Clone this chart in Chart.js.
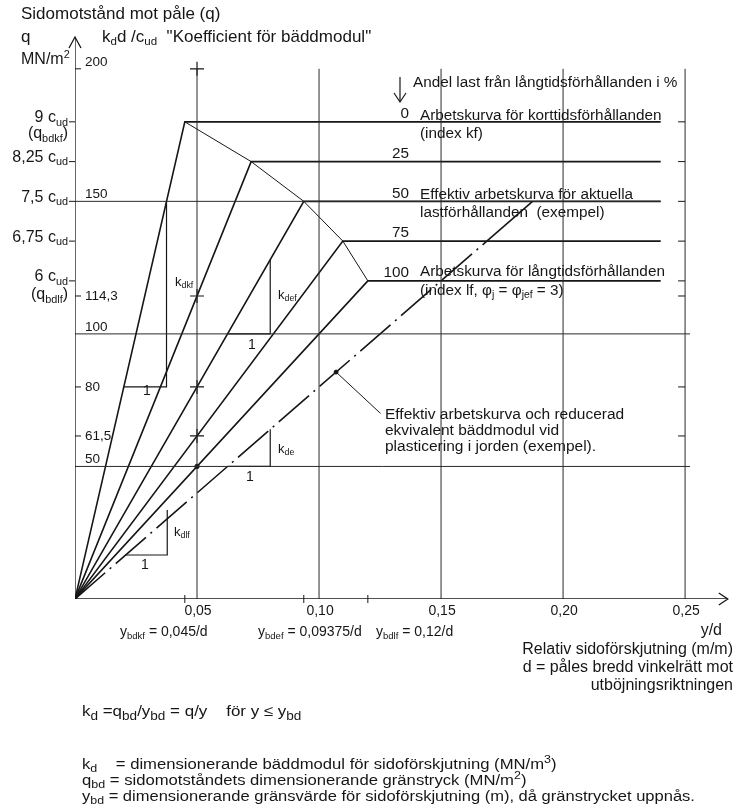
<!DOCTYPE html>
<html><head><meta charset="utf-8">
<script src="https://cdn.jsdelivr.net/npm/chart.js@4/dist/chart.umd.min.js"></script>
<style>html,body{margin:0;padding:0;background:#fff;}canvas{display:block}</style>
</head><body>
<canvas id="c" width="736" height="809"></canvas>
<script>
// ---------------- data ----------------
const loadShares   = ['0', '25', '50', '75', '100'];        // andel last från långtidsförhållanden (%)
const plateauQ     = [9, 8.25, 7.5, 6.75, 6];                // gränstryck q_bd i c_ud
const rayK         = [200, 114.3, 80, 61.5, 50];             // k_d d / c_ud för respektive kurva
const plateauEndX  = 0.24;                                   // slut på arbetskurvornas plana del (y/d)
const effK         = 40;                                     // reducerad ekvivalent bäddmodul (k_d d / c_ud)
const effBreakQ    = 6.75;                                   // där streckprickade delen övergår i heldragen
const effEndQ      = 7.5;
const xTickValues  = [0.05, 0.10, 0.15, 0.20, 0.25];
const xTickLabels  = ['0,05', '0,10', '0,15', '0,20', '0,25'];
const yGridQ       = [2.5, 5, 7.5];
const kTickValues  = [200, 150, 114.3, 100, 80, 61.5, 50];
const kTickLabels  = ['200', '150', '114,3', '100', '80', '61,5', '50'];
const qTickLabels  = ['9', '8,25', '7,5', '6,75', '6'];
const crossK       = [200, 114.3, 80, 61.5];                 // + markeringar vid y/d = 0,05
const dotK         = [50];
const yBdValues    = [0.045, 0.09375, 0.12];
const triKdkf      = [[0.02, 4], [0.0375, 4], [0.0375, 7.5]];
const triKdef      = [[0.0625, 5], [0.08, 5], [0.08, 6.4]];
const triKde       = [[0.0625, 2.5], [0.08, 2.5], [0.08, 3.2]];
const triKdlf      = [[0.0207, 0.83], [0.0378, 0.83], [0.0378, 1.68]];
const leaderX      = [0.107, 0.1252];
const leaderQ      = [4.28, 3.5];

// ---------------- drawing ----------------
const INK = '#161616', GRID = '#2a2a2a';
const FONT = '"Liberation Sans", Arial, sans-serif';
const datasets = [];
function seg(points, opts) {
  datasets.push(Object.assign({
    data: points.map(p => ({x: p[0], y: p[1]})),
    showLine: true, pointRadius: 0, borderColor: INK, borderWidth: 1.6,
    fill: false, tension: 0
  }, opts || {}));
}
// axes
seg([[0, 0], [0.2675, 0]], {borderWidth: 1.3});
seg([[0, 0], [0, 10.6]], {borderWidth: 1.3});
// grid
xTickValues.forEach(v => seg([[v, -0.1], [v, 10]], {borderColor: GRID, borderWidth: 1}));
yGridQ.forEach(q => seg([[0, q], [q === 7.5 ? plateauEndX : 0.252, q]], {borderColor: GRID, borderWidth: 1}));
// working curves
plateauQ.forEach((q, i) => seg([[0, 0], [q / rayK[i], q], [plateauEndX, q]]));
// envelope through corners
seg(plateauQ.map((q, i) => [q / rayK[i], q]), {borderWidth: 1});
// effective reduced curve
seg([[0, 0], [effBreakQ / effK, effBreakQ]], {borderDash: [40, 6, 2, 6]});
seg([[effBreakQ / effK, effBreakQ], [effEndQ / effK, effEndQ]]);
// triangles
[triKdkf, triKdef, triKde, triKdlf].forEach(t => seg(t, {borderWidth: 1.2}));
// leader line
seg(leaderX.map((x, i) => [x, leaderQ[i]]), {borderWidth: 1});
datasets.push({data: [{x: leaderX[0], y: leaderQ[0]}], showLine: false, pointRadius: 2,
  pointBackgroundColor: INK, pointBorderColor: INK});
// markers at y/d = 0,05
datasets.push({data: crossK.map(k => ({x: 0.05, y: k / 20})), showLine: false, pointStyle: 'cross',
  pointRadius: 7, pointBorderColor: INK, pointBorderWidth: 1.2});
datasets.push({data: dotK.map(k => ({x: 0.05, y: k / 20})), showLine: false, pointRadius: 2.2,
  pointBackgroundColor: INK, pointBorderColor: INK});

function font(s) { return s + 'px ' + FONT; }
// rich text: parts are strings or [text, 'sub'|'sup']; sx = horizontal stretch
function rich(ctx, x, y, parts, size, align, subScale, sx) {
  const ss = subScale || 0.68, k = sx || 1;
  const segs = parts.map(p => typeof p === 'string' ? {t: p, m: ''} : {t: p[0], m: p[1]});
  let w = 0;
  segs.forEach(s => { ctx.font = font(s.m ? size * ss : size); s.w = ctx.measureText(s.t).width; w += s.w; });
  const W = w * k;
  const x0 = align === 'right' ? x - W : align === 'center' ? x - W / 2 : x;
  ctx.save();
  ctx.translate(x0, 0);
  ctx.scale(k, 1);
  let cx = 0;
  segs.forEach(s => {
    ctx.font = font(s.m ? size * ss : size);
    const dy = s.m === 'sub' ? size * 0.3 : s.m === 'sup' ? -size * 0.32 : 0;
    ctx.fillText(s.t, cx, y + dy);
    cx += s.w;
  });
  ctx.restore();
}
function line(ctx, pts, w) {
  ctx.lineWidth = w || 1.2; ctx.beginPath();
  pts.forEach((p, i) => i ? ctx.lineTo(p[0], p[1]) : ctx.moveTo(p[0], p[1]));
  ctx.stroke();
}

const annot = {
  id: 'annot',
  afterDatasetsDraw(chart) {
    const {ctx, scales: {x, y}} = chart;
    const X = v => x.getPixelForValue(v), Y = v => y.getPixelForValue(v);
    ctx.save();
    ctx.fillStyle = INK; ctx.strokeStyle = INK; ctx.textBaseline = 'middle'; ctx.textAlign = 'left';
    // arrowheads
    const ax = X(0.2675), ay = Y(0);
    line(ctx, [[ax - 9, ay - 6], [ax, ay], [ax - 9, ay + 6]], 1.3);
    const tx = X(0), ty = Y(10.6);
    line(ctx, [[tx - 6, ty + 11], [tx, ty], [tx + 6, ty + 11]], 1.3);
    // left axis ticks
    plateauQ.forEach(q => line(ctx, [[X(0) - 6, Y(q)], [X(0), Y(q)]], 1));
    [200, 114.3, 80, 61.5].forEach(k => line(ctx, [[X(0), Y(k / 20)], [X(0) + 6, Y(k / 20)]], 1));
    // right ticks on 0,25 line
    plateauQ.concat([5.715, 4, 3.075]).forEach(q => line(ctx, [[X(0.25) - 7, Y(q)], [X(0.25), Y(q)]], 1));
    // x axis small ticks at y_bd
    yBdValues.forEach(v => line(ctx, [[X(v), Y(0) - 4], [X(v), Y(0) + 4]], 1));

    // titles
    rich(ctx, 21, 14, ['Sidomotstånd mot påle (q)'], 17);
    rich(ctx, 21, 37, ['q'], 17);
    rich(ctx, 102, 37, ['k', ['d', 'sub'], 'd /c', ['ud', 'sub'], '  "Koefficient för bäddmodul"'], 17);
    rich(ctx, 21, 60, ['MN/m', ['2', 'sup']], 16);

    // left q labels
    qTickLabels.forEach((t, i) => rich(ctx, 68, Y(plateauQ[i]) - 4, [t + ' c', ['ud', 'sub']], 16, 'right'));
    rich(ctx, 68, Y(plateauQ[0]) + 12, ['(q', ['bdkf', 'sub'], ')'], 16, 'right');
    rich(ctx, 68, Y(plateauQ[4]) + 14, ['(q', ['bdlf', 'sub'], ')'], 16, 'right');

    // inner k labels
    kTickValues.forEach((k, i) => {
      const gridLike = (k === 150 || k === 100 || k === 50 || k === 200);
      rich(ctx, X(0) + 10, Y(k / 20) - (gridLike ? 7 : 0), [kTickLabels[i]], 13.5);
    });

    // load share header and labels
    const RS = 15.3;
    line(ctx, [[400, 77], [400, 102]], 1.2);
    line(ctx, [[394, 93], [400, 102], [406, 93]], 1.2);
    rich(ctx, 413, 83, ['Andel last från långtidsförhållanden i %'], RS);
    loadShares.forEach((s, i) => rich(ctx, 409, Y(plateauQ[i]) - 8, [s], RS, 'right'));
    rich(ctx, 420, Y(9) - 6, ['Arbetskurva för korttidsförhållanden'], RS);
    rich(ctx, 420, Y(9) + 12, ['(index kf)'], RS);
    rich(ctx, 420, Y(7.5) - 7, ['Effektiv arbetskurva för aktuella'], RS);
    rich(ctx, 420, Y(7.5) + 11, ['lastförhållanden  (exempel)'], RS);
    rich(ctx, 420, Y(6) - 9, ['Arbetskurva för långtidsförhållanden'], RS);
    rich(ctx, 420, Y(6) + 10, ['(index lf, φ', ['j', 'sub'], ' = φ', ['jef', 'sub'], ' = 3)'], RS);

    // effective curve note
    rich(ctx, 385, 415, ['Effektiv arbetskurva och reducerad'], 15.5);
    rich(ctx, 385, 431, ['ekvivalent bäddmodul vid'], 15.5);
    rich(ctx, 385, 447, ['plasticering i jorden (exempel).'], 15.5);

    // triangle labels
    rich(ctx, 175, 282, ['k', ['dkf', 'sub']], 13);
    rich(ctx, 278, 295, ['k', ['def', 'sub']], 13);
    rich(ctx, 278, 449, ['k', ['de', 'sub']], 13);
    rich(ctx, 174, 532, ['k', ['dlf', 'sub']], 13);
    rich(ctx, 147, 391, ['1'], 14, 'center');
    rich(ctx, 252, 345, ['1'], 14, 'center');
    rich(ctx, 250, 477, ['1'], 14, 'center');
    rich(ctx, 145, 565, ['1'], 14, 'center');

    // x tick labels
    xTickValues.forEach((v, i) => rich(ctx, X(v) + 1, 611, [xTickLabels[i]], 14, 'center'));
    rich(ctx, 120, 632, ['y', ['bdkf', 'sub'], ' = 0,045/d'], 14);
    rich(ctx, 258, 632, ['y', ['bdef', 'sub'], ' = 0,09375/d'], 14);
    rich(ctx, 376, 632, ['y', ['bdlf', 'sub'], ' = 0,12/d'], 14);
    rich(ctx, 722, 631, ['y/d'], 16, 'right');
    rich(ctx, 733, 650, ['Relativ sidoförskjutning (m/m)'], 16, 'right');
    rich(ctx, 733, 668, ['d = påles bredd vinkelrätt mot'], 16, 'right');
    rich(ctx, 733, 686, ['utböjningsriktningen'], 16, 'right');

    // formula and legend
    rich(ctx, 82, 712, ['k', ['d', 'sub'], ' =q', ['bd', 'sub'], '/y', ['bd', 'sub'], ' = q/y    för y ≤ y', ['bd', 'sub']], 15, 'left', 0.8, 1.13);
    rich(ctx, 82, 765, ['k', ['d', 'sub'], '    = dimensionerande bäddmodul för sidoförskjutning (MN/m', ['3', 'sup'], ')'], 14, 'left', 0.75, 1.19);
    rich(ctx, 82, 781, ['q', ['bd', 'sub'], ' = sidomotståndets dimensionerande gränstryck (MN/m', ['2', 'sup'], ')'], 14, 'left', 0.75, 1.19);
    rich(ctx, 82, 797, ['y', ['bd', 'sub'], ' = dimensionerande gränsvärde för sidoförskjutning (m), då gränstrycket uppnås.'], 14, 'left', 0.75, 1.18);
    ctx.restore();
  }
};

new Chart(document.getElementById('c'), {
  type: 'scatter',
  data: {datasets},
  options: {
    responsive: false, animation: false, devicePixelRatio: 1,
    layout: {padding: {left: 75, right: 3.5, top: 37, bottom: 210}},
    plugins: {legend: {display: false}, tooltip: {enabled: false}},
    elements: {line: {borderCapStyle: 'butt'}},
    scales: {
      x: {type: 'linear', min: 0, max: 0.2675, display: false},
      y: {type: 'linear', min: 0, max: 10.6, display: false}
    }
  },
  plugins: [annot]
});
</script>
</body></html>
